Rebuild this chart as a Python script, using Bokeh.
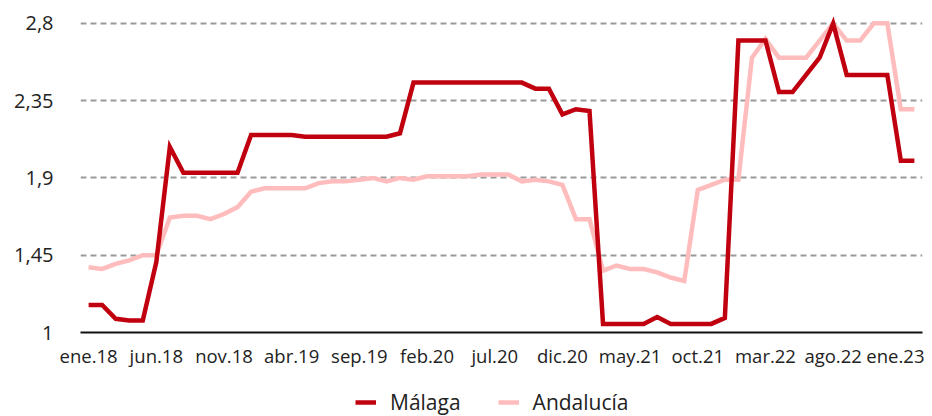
from bokeh.plotting import figure
from bokeh.models import Range1d, FixedTicker, Legend, LegendItem
from bokeh.layouts import column
from bokeh.embed import file_html
from bokeh.resources import INLINE

months = ["ene", "feb", "mar", "abr", "may", "jun", "jul", "ago", "sep", "oct", "nov", "dic"]
periods = [f"{months[i % 12]}.{18 + i // 12}" for i in range(62)]

malaga = [1.16, 1.16, 1.08, 1.07, 1.07, 1.41, 2.08, 1.93, 1.93, 1.93,
          1.93, 1.93, 2.15, 2.15, 2.15, 2.15, 2.14, 2.14, 2.14, 2.14,
          2.14, 2.14, 2.14, 2.16, 2.455, 2.455, 2.455, 2.455, 2.455, 2.455,
          2.455, 2.455, 2.455, 2.42, 2.42, 2.27, 2.30, 2.29, 1.05, 1.05,
          1.05, 1.05, 1.09, 1.05, 1.05, 1.05, 1.05, 1.085, 2.70, 2.70,
          2.70, 2.40, 2.40, 2.50, 2.60, 2.80, 2.50, 2.50, 2.50, 2.50,
          2.00, 2.00]

andalucia = [1.38, 1.37, 1.40, 1.42, 1.45, 1.45, 1.67, 1.68, 1.68, 1.66,
             1.69, 1.73, 1.82, 1.84, 1.84, 1.84, 1.84, 1.87, 1.88, 1.88,
             1.89, 1.90, 1.88, 1.90, 1.89, 1.91, 1.91, 1.91, 1.91, 1.92,
             1.92, 1.92, 1.88, 1.89, 1.88, 1.86, 1.66, 1.66, 1.36, 1.39,
             1.37, 1.37, 1.35, 1.32, 1.30, 1.83, 1.86, 1.89, 1.89, 2.60,
             2.71, 2.60, 2.60, 2.60, 2.70, 2.80, 2.70, 2.70, 2.80, 2.80,
             2.30, 2.30]

series_names = ["Málaga", "Andalucía"]
series_colors = ["#C0000F", "#FFBCBC"]

y_ticks = [1, 1.45, 1.9, 2.35, 2.8]
y_tick_labels = ["1", "1,45", "1,9", "2,35", "2,8"]
x_tick_idx = list(range(0, 62, 5))

x = list(range(len(periods)))

FONT = "Open Sans"

p = figure(width=924, height=370, output_backend="svg", toolbar_location=None,
           x_range=Range1d(-0.6, 61.6), y_range=Range1d(1, 2.84),
           min_border_left=80, min_border_right=2, min_border_top=16,
           min_border_bottom=36)
p.outline_line_color = None
p.background_fill_color = "white"
p.border_fill_color = "white"

p.line(x, andalucia, line_color=series_colors[1], line_width=4.5, line_join="miter")
p.line(x, malaga, line_color=series_colors[0], line_width=4.5, line_join="miter")

p.xgrid.grid_line_color = None
p.ygrid.grid_line_color = "#9A9A9A"
p.ygrid.grid_line_width = 2
p.ygrid.grid_line_dash = "6 4"
p.ygrid.ticker = FixedTicker(ticks=[1.45, 1.9, 2.35, 2.8])

p.yaxis.ticker = FixedTicker(ticks=y_ticks)
p.yaxis.major_label_overrides = {t: l for t, l in zip(y_ticks, y_tick_labels)}
p.yaxis.axis_line_color = None
p.yaxis.major_tick_line_color = None
p.yaxis.minor_tick_line_color = None
p.yaxis.major_tick_out = 0
p.yaxis.major_label_standoff = 27
p.yaxis.major_label_text_font = FONT
p.yaxis.major_label_text_font_size = "20px"
p.yaxis.major_label_text_color = "#222222"

p.xaxis.ticker = FixedTicker(ticks=x_tick_idx)
p.xaxis.major_label_overrides = {i: periods[i] for i in x_tick_idx}
p.xaxis.axis_line_color = "#111111"
p.xaxis.axis_line_width = 2
p.xaxis.major_tick_line_color = None
p.xaxis.minor_tick_line_color = None
p.xaxis.major_tick_out = 0
p.xaxis.major_label_standoff = 10
p.xaxis.major_label_text_font = FONT
p.xaxis.major_label_text_font_size = "18.5px"
p.xaxis.major_label_text_color = "#222222"

# legend in its own strip below the chart
lg = figure(width=924, height=46, output_backend="svg", toolbar_location=None,
            x_range=Range1d(0, 1), y_range=Range1d(0, 1),
            min_border_left=80, min_border_right=2, min_border_top=0,
            min_border_bottom=0)
lg.axis.visible = False
lg.grid.visible = False
lg.outline_line_color = None
lg.background_fill_color = "white"
lg.border_fill_color = "white"
items = []
for name, col in zip(series_names, series_colors):
    # placeholder renderer kept outside the visible range; only its legend swatch shows
    r = lg.line([-10, -9], [-10, -9], line_color=col, line_width=4.5)
    items.append(LegendItem(label=name, renderers=[r]))

legend = Legend(items=items, orientation="horizontal", location=(275, 0),
                label_text_font=FONT, label_text_font_size="21px",
                label_text_color="#222222", glyph_width=21, label_standoff=14,
                spacing=37, border_line_color=None, background_fill_alpha=0,
                padding=0, margin=0)
lg.add_layout(legend)

layout = column(p, lg, spacing=0)
open("out.html", "w").write(file_html(layout, INLINE))
